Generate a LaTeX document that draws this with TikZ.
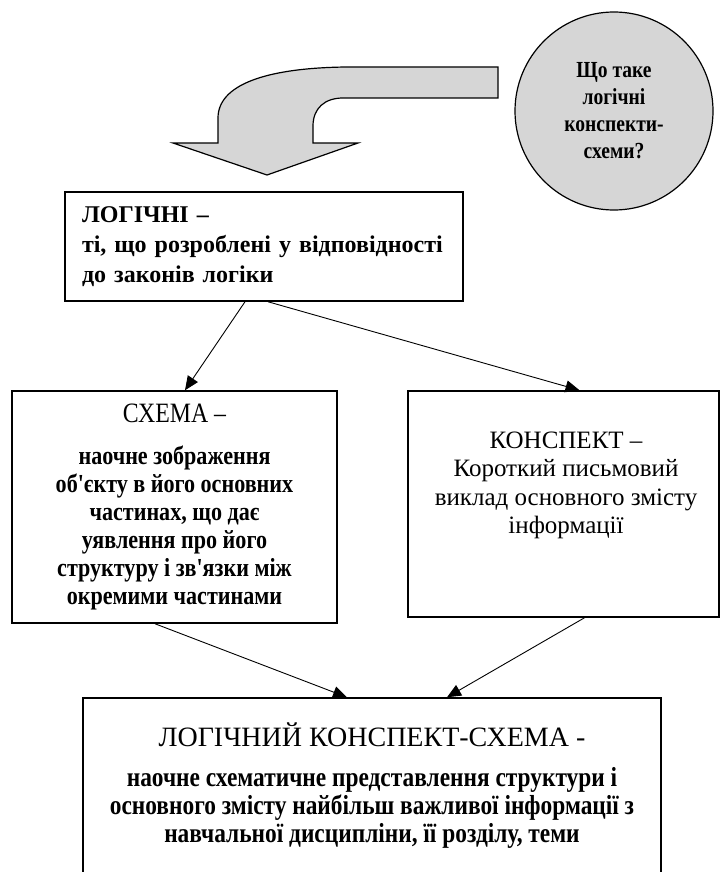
\documentclass[tikz,border=0pt]{standalone}
\usepackage{fontspec}
\setmainfont{Liberation Serif}
\newfontfamily\narrowfont[FakeStretch=0.85]{Liberation Serif}
\usetikzlibrary{arrows.meta}

\begin{document}
\begin{tikzpicture}[x=1pt, y=-1pt,
  box/.style={draw, line width=1.5pt, inner sep=0pt},
  txt/.style={align=center},
  link/.style={line width=0.9pt, -{Triangle[length=14pt,width=12pt]}},
  shaded/.style={draw, line width=1.2pt, fill=black!16}]
  \useasboundingbox (0,0) rectangle (720,872);

  \draw[shaded] (498,67) -- (346,67) .. controls (265,68) and (218,85) .. (218,118)
    -- (218,143) -- (173,143) -- (267,175) -- (358,143) -- (313,143) -- (313,126)
    .. controls (313,108) and (325,98) .. (343,98) -- (498,98) -- cycle;

  \node[shaded, circle, minimum size=198pt, inner sep=0pt, txt,
    font=\narrowfont\bfseries\fontsize{23}{27}\selectfont]
    (question) at (614,111) {Що таке\\логічні\\конспекти-\\схеми?};

  \node[box, minimum width=398pt, minimum height=109pt, font=\bfseries\fontsize{24}{30}\selectfont,
    text width=364pt, align=left] (logic) at (264,246.5)
    {ЛОГІЧНІ –\\ті, що розроблені у відповідності\\до законів логіки};

  \node[box, txt, minimum width=325pt, minimum height=232pt,
    font=\narrowfont\fontsize{26}{28}\selectfont] (schema) at (174.5,507)
    {{\fontsize{28}{28}\selectfont СХЕМА –}\\[14pt]\bfseries наочне зображення\\\bfseries об'єкту в його основних\\
     \bfseries частинах, що дає\\\bfseries уявлення про його\\
     \bfseries структуру і зв'язки між\\\bfseries окремими частинами};

  \node[box, minimum width=311pt, minimum height=226pt] (konspekt) at (563.5,504) {};
  \node[txt, font=\fontsize{25}{28.5}\selectfont] (konspektText) at (566,485.5)
    {КОНСПЕКТ –\\Короткий письмовий\\виклад основного змісту\\інформації};

  \node[box, txt, minimum width=578pt, minimum height=176pt,
    font=\narrowfont\fontsize{27.5}{28}\selectfont] (summary) at (372,786)
    {{\rmfamily\mdseries\fontsize{28}{28}\selectfont ЛОГІЧНИЙ КОНСПЕКТ-СХЕМА -}\\[12pt]
     \bfseries наочне схематичне представлення структури і\\
     \bfseries основного змісту найбільш важливої інформації з\\
     \bfseries навчальної дисципліни, її розділу, теми};

  \draw[link] ([xshift=-19pt]logic.south) -- ([xshift=10.5pt]schema.north);
  \draw[link] ([xshift=4pt]logic.south) -- ([xshift=16pt]konspekt.north);
  \draw[link] ([xshift=-19.5pt]schema.south) -- ([xshift=-25pt]summary.north);
  \draw[link] ([xshift=21pt]konspekt.south) -- ([xshift=75pt]summary.north);
\end{tikzpicture}
\end{document}
